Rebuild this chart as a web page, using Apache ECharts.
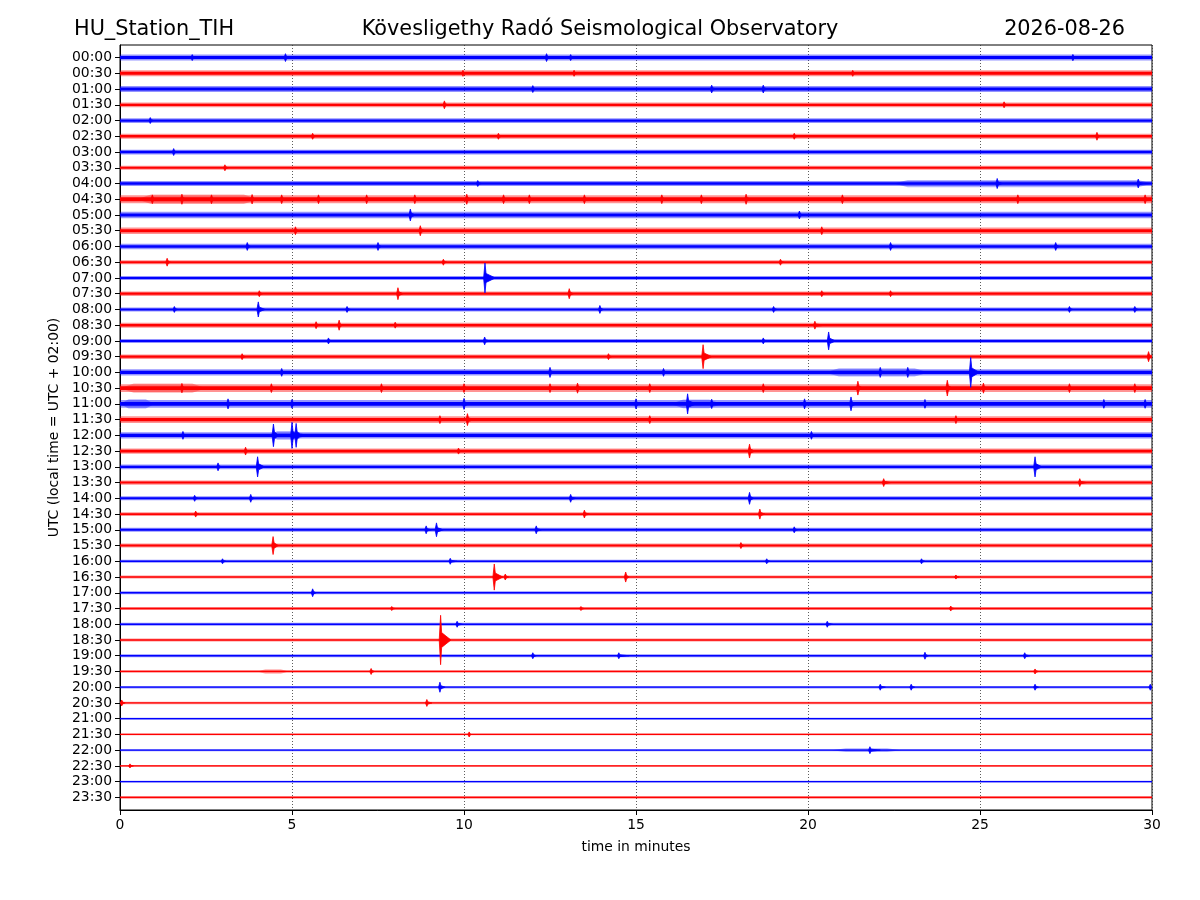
<!DOCTYPE html>
<html>
<head>
<meta charset="utf-8">
<script src="https://cdn.jsdelivr.net/npm/echarts@6/dist/echarts.min.js"></script>
<style>html,body{margin:0;padding:0;background:#fff}#c{width:1200px;height:900px}</style>
</head>
<body>
<div id="c"></div>
<script>
// ---- data ----
const traceLabels = ["00:00","00:30","01:00","01:30","02:00","02:30","03:00","03:30","04:00","04:30","05:00","05:30","06:00","06:30","07:00","07:30","08:00","08:30","09:00","09:30","10:00","10:30","11:00","11:30","12:00","12:30","13:00","13:30","14:00","14:30","15:00","15:30","16:00","16:30","17:00","17:30","18:00","18:30","19:00","19:30","20:00","20:30","21:00","21:30","22:00","22:30","23:00","23:30"];
const xTicks = [0, 5, 10, 15, 20, 25, 30];
// background noise half-amplitude of each trace (fraction of trace spacing)
const noiseLevel = [0.19,0.19,0.19,0.15,0.15,0.16,0.15,0.13,0.16,0.25,0.20,0.20,0.17,0.13,0.13,0.145,0.13,0.16,0.13,0.145,0.20,0.25,0.25,0.22,0.20,0.17,0.145,0.13,0.125,0.115,0.125,0.125,0.10,0.10,0.10,0.09,0.09,0.09,0.09,0.08,0.08,0.08,0.06,0.055,0.06,0.06,0.06,0.09];
// noisier stretches: [trace, start minute, end minute, half-amplitude]
const noisyStretches = [[8,22.5,30,0.23],[9,0.5,4,0.3],[20,20.5,23.5,0.26],[21,0,2.5,0.3],[22,0,1,0.3],[22,16,17.5,0.28],[24,4.3,5.4,0.28],[39,4.0,4.9,0.14],[44,20.7,22.7,0.12]];
// bursts / events: [trace, minute, peak half-amplitude, coda duration in minutes]
const events = [
[0,2.1,0.19,0.1],[0,4.81,0.25,0.1],[0,12.4,0.25,0.1],[0,13.1,0.19,0.1],[0,27.7,0.2,0.1],
[1,9.97,0.19,0.1],[1,13.2,0.19,0.1],[1,21.3,0.19,0.1],
[2,12.0,0.22,0.1],[2,17.2,0.25,0.15],[2,18.7,0.25,0.15],
[3,9.43,0.25,0.1],[3,25.7,0.19,0.1],
[4,0.88,0.19,0.1],
[5,5.6,0.19,0.1],[5,11.0,0.19,0.1],[5,19.6,0.19,0.1],[5,28.4,0.25,0.1],
[6,1.56,0.22,0.1],
[7,3.05,0.19,0.1],
[8,10.4,0.19,0.1],[8,25.5,0.32,0.15],[8,29.6,0.28,0.15],
[9,0.94,0.28,0.1],[9,1.8,0.32,0.15],[9,2.66,0.28,0.1],[9,3.84,0.3,0.1],[9,4.7,0.28,0.1],[9,5.77,0.28,0.1],[9,7.17,0.28,0.1],[9,8.57,0.28,0.1],[9,10.08,0.32,0.15],[9,11.15,0.28,0.1],[9,11.9,0.28,0.1],[9,13.5,0.28,0.1],[9,15.75,0.28,0.1],[9,16.9,0.28,0.1],[9,18.2,0.32,0.15],[9,21.0,0.28,0.1],[9,26.1,0.28,0.1],[9,29.8,0.28,0.1],
[10,8.44,0.38,0.15],[10,19.75,0.25,0.1],
[11,5.1,0.25,0.1],[11,8.73,0.32,0.15],[11,20.4,0.25,0.1],
[12,3.7,0.25,0.1],[12,7.5,0.25,0.1],[12,22.4,0.25,0.1],[12,27.2,0.25,0.1],
[13,1.37,0.25,0.1],[13,9.4,0.19,0.1],[13,19.2,0.19,0.1],
[14,10.61,0.95,0.3],
[15,4.05,0.19,0.1],[15,8.08,0.38,0.15],[15,13.06,0.32,0.12],[15,20.4,0.19,0.1],[15,22.4,0.19,0.1],
[16,1.58,0.19,0.1],[16,4.02,0.48,0.2],[16,6.6,0.19,0.1],[16,13.95,0.25,0.1],[16,19.0,0.19,0.1],[16,27.6,0.19,0.1],[16,29.5,0.19,0.1],
[17,5.7,0.22,0.1],[17,6.37,0.32,0.1],[17,8.0,0.19,0.1],[17,20.2,0.25,0.3],
[18,6.06,0.19,0.1],[18,10.6,0.25,0.15],[18,18.7,0.19,0.1],[18,20.6,0.57,0.2],
[19,3.55,0.19,0.1],[19,14.2,0.19,0.1],[19,16.95,0.76,0.25],[19,29.9,0.32,0.1],
[20,4.7,0.25,0.1],[20,12.5,0.32,0.15],[20,15.8,0.25,0.1],[20,22.1,0.32,0.15],[20,22.9,0.32,0.15],[20,24.73,0.95,0.25],
[21,1.8,0.3,0.1],[21,4.4,0.28,0.1],[21,7.6,0.28,0.1],[21,10.0,0.28,0.1],[21,12.5,0.28,0.1],[21,13.3,0.32,0.15],[21,15.4,0.28,0.1],[21,18.7,0.28,0.1],[21,21.45,0.44,0.15],[21,24.05,0.5,0.15],[21,25.1,0.32,0.1],[21,27.6,0.28,0.1],[21,29.5,0.28,0.1],
[22,3.14,0.32,0.1],[22,5.0,0.28,0.1],[22,10.0,0.35,0.15],[22,15.0,0.32,0.1],[22,16.5,0.64,0.25],[22,17.2,0.3,0.1],[22,19.9,0.32,0.1],[22,21.25,0.44,0.15],[22,23.4,0.28,0.1],[22,28.6,0.28,0.1],[22,29.8,0.28,0.1],
[23,9.3,0.25,0.1],[23,10.1,0.38,0.2],[23,15.4,0.25,0.1],[23,24.3,0.25,0.1],
[24,1.83,0.25,0.1],[24,4.46,0.72,0.15],[24,5.0,0.83,0.15],[24,5.12,0.76,0.15],[24,20.1,0.25,0.1],
[25,3.65,0.25,0.1],[25,9.84,0.19,0.1],[25,18.3,0.44,0.15],
[26,2.85,0.25,0.1],[26,4.0,0.64,0.2],[26,26.6,0.64,0.2],
[27,22.2,0.25,0.2],[27,27.9,0.25,0.2],
[28,2.17,0.19,0.1],[28,3.8,0.25,0.1],[28,13.1,0.25,0.15],[28,18.3,0.38,0.12],
[29,2.2,0.19,0.1],[29,13.5,0.25,0.15],[29,18.6,0.32,0.15],
[30,8.9,0.25,0.15],[30,9.2,0.44,0.2],[30,12.1,0.25,0.15],[30,19.6,0.19,0.1],
[31,4.45,0.57,0.15],[31,18.05,0.19,0.1],
[32,2.98,0.16,0.1],[32,9.6,0.19,0.2],[32,18.8,0.16,0.1],[32,23.3,0.16,0.1],
[33,10.88,0.83,0.25],[33,11.2,0.19,0.1],[33,14.7,0.32,0.1],[33,24.3,0.13,0.1],
[34,5.6,0.25,0.1],
[35,7.9,0.13,0.1],[35,13.4,0.13,0.1],[35,24.15,0.16,0.1],
[36,9.8,0.19,0.15],[36,20.56,0.19,0.15],
[37,9.32,1.57,0.3],
[38,12.0,0.19,0.1],[38,14.5,0.19,0.3],[38,23.4,0.22,0.1],[38,26.3,0.19,0.15],
[39,7.3,0.19,0.1],[39,26.6,0.16,0.1],
[40,9.3,0.32,0.15],[40,22.1,0.19,0.15],[40,23.0,0.19,0.1],[40,26.6,0.19,0.1],[40,29.95,0.19,0.05],
[41,0.05,0.19,0.1],[41,8.92,0.22,0.15],
[43,10.15,0.16,0.05],
[44,21.8,0.22,0.3],
[45,0.29,0.13,0.1]
];
const traceColors = ["#0000ff", "#ff0000"];

// ---- chart ----
const colorOf = tr => traceColors[tr % 2];
const chart = echarts.init(document.getElementById('c'), null, {renderer: 'canvas'});
const FONT = 'DejaVu Sans';

function renderBand(params, api) {
  const tr = api.value(1), lv = api.value(2);
  const c = colorOf(tr);
  const a = api.coord([0, tr - lv]), b = api.coord([30, tr + lv]);
  const ia = api.coord([0, tr - lv * 0.5]), ib = api.coord([30, tr + lv * 0.5]);
  const y0 = Math.min(a[1], b[1]), y1 = Math.max(a[1], b[1]);
  const iy0 = Math.min(ia[1], ib[1]), iy1 = Math.max(ia[1], ib[1]);
  const ih = Math.max(1.2, iy1 - iy0), icy = (iy0 + iy1) / 2;
  return {type: 'group', children: [
    {type: 'rect', shape: {x: a[0], y: y0, width: b[0] - a[0], height: y1 - y0}, style: {fill: c, opacity: 0.42}},
    {type: 'rect', shape: {x: a[0], y: icy - ih / 2, width: b[0] - a[0], height: ih}, style: {fill: c}}
  ]};
}
function renderStretch(params, api) {
  const t0 = api.value(0), tr = api.value(1), t1 = api.value(2), lv = api.value(3);
  const c = colorOf(tr);
  const e = Math.min(0.4, (t1 - t0) / 4);
  const pts = [api.coord([t0, tr]), api.coord([t0 + e, tr - lv]), api.coord([t1 - e, tr - lv]), api.coord([t1, tr]), api.coord([t1 - e, tr + lv]), api.coord([t0 + e, tr + lv])];
  return {type: 'polygon', shape: {points: pts}, style: {fill: c, opacity: 0.3}};
}
function renderEvent(params, api) {
  const t = api.value(0), tr = api.value(1), amp = api.value(2), dur = api.value(3);
  const c = colorOf(tr);
  const pts = [api.coord([t - 0.04, tr]), api.coord([t, tr - amp]), api.coord([t + 0.03, tr - amp * 0.3]), api.coord([t + dur, tr]), api.coord([t + 0.03, tr + amp * 0.3]), api.coord([t, tr + amp])];
  return {type: 'polygon', shape: {points: pts}, style: {fill: c, stroke: c, lineWidth: 0.8}};
}

const bandData = noiseLevel.map((lv, i) => [0, i, lv]);
const stretchData = noisyStretches.map(s => [s[1], s[0], s[2], s[3]]);
const eventData = events.map(e => [e[1], e[0], e[2], e[3]]);
const yVals = traceLabels.map((_, i) => i);
const titleStyle = {fontFamily: FONT, fontSize: 20.8, fontWeight: 'normal', color: '#000'};

chart.setOption({
  animation: false,
  backgroundColor: '#ffffff',
  title: [
    {text: 'HU_Station_TIH', left: 74, top: 19, padding: 0, textStyle: titleStyle},
    {text: 'Kövesligethy Radó Seismological Observatory', left: 'center', top: 19, padding: 0, textStyle: titleStyle},
    {text: '2026-08-26', right: 75, top: 19, padding: 0, textStyle: titleStyle}
  ],
  grid: {left: 120, right: 48, top: 45, bottom: 90, show: true, borderColor: '#000', borderWidth: 1, backgroundColor: 'transparent'},
  xAxis: {
    type: 'value', min: 0, max: 30, interval: 5,
    name: 'time in minutes', nameLocation: 'middle', nameGap: 30,
    nameTextStyle: {fontFamily: FONT, fontSize: 13.9, color: '#000'},
    axisLine: {show: true, onZero: false, lineStyle: {color: '#000', width: 1}},
    axisTick: {show: true, inside: false, length: 5, lineStyle: {color: '#000'}},
    axisLabel: {fontFamily: FONT, fontSize: 13.9, color: '#000', margin: 8, formatter: v => xTicks.indexOf(v) >= 0 ? String(v) : ''},
    splitLine: {show: true, lineStyle: {color: '#333', type: [1, 2], width: 0.8}}
  },
  yAxis: {
    type: 'value', min: -0.8, max: 47.8, inverse: true,
    name: 'UTC (local time = UTC + 02:00)', nameLocation: 'middle', nameGap: 57, nameRotate: 90,
    nameTextStyle: {fontFamily: FONT, fontSize: 13.9, color: '#000'},
    axisLine: {show: true, lineStyle: {color: '#000', width: 1}},
    axisTick: {show: true, inside: false, length: 5, customValues: yVals, lineStyle: {color: '#000'}},
    axisLabel: {fontFamily: FONT, fontSize: 13.9, color: '#000', margin: 8, customValues: yVals, formatter: v => traceLabels[Math.round(v)] || ''},
    splitLine: {show: false}
  },
  series: [
    {type: 'custom', name: 'noise', renderItem: renderBand, data: bandData, clip: true, silent: true},
    {type: 'custom', name: 'stretches', renderItem: renderStretch, data: stretchData, clip: true, silent: true},
    {type: 'custom', name: 'events', renderItem: renderEvent, data: eventData, clip: true, silent: true}
  ]
});
</script>
</body>
</html>
